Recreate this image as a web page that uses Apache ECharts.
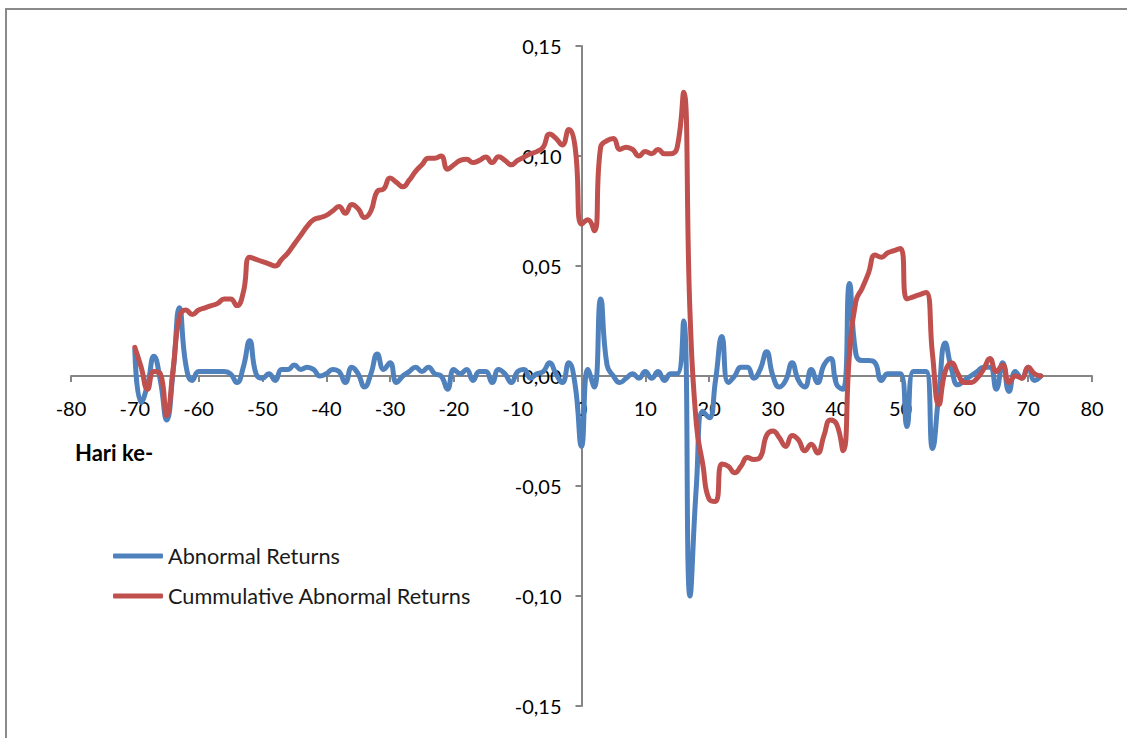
<!DOCTYPE html>
<html>
<head>
<meta charset="utf-8">
<title>Abnormal Returns</title>
<script src="https://cdn.jsdelivr.net/npm/echarts@6/dist/echarts.min.js"></script>
<style>
  html, body { margin: 0; padding: 0; background: #ffffff; }
  #chart { width: 1127px; height: 738px; }
</style>
</head>
<body>
<div id="chart"></div>
<script>
// Event window: day -70 .. day 72
const firstDay = -70;

// Daily abnormal returns (AR), days -70 .. 72
const abnormalReturns = [
  0.012, -0.012, -0.004, 0.009, -0.002, -0.020, 0.002, 0.031, 0.005, -0.002,   // -70 .. -61
  0.002, 0.002, 0.002, 0.002, 0.002, 0.001, -0.003, 0.004, 0.016, 0.001,       // -60 .. -51
  -0.001, 0.001, -0.002, 0.003, 0.003, 0.005, 0.003, 0.004, 0.003, 0.000,      // -50 .. -41
  0.001, 0.003, 0.002, -0.003, 0.004, 0.001, -0.005, 0.001, 0.010, 0.003,      // -40 .. -31
  0.006, -0.003, 0.000, 0.002, 0.004, 0.002, 0.004, 0.001, 0.000, -0.006,      // -30 .. -21
  0.003, 0.001, 0.003, -0.002, 0.002, 0.002, -0.003, 0.003, 0.001, -0.003,     // -20 .. -11
  0.002, 0.003, -0.001, 0.001, 0.002, 0.006, 0.001, -0.003, 0.006, -0.004,     // -10 .. -1
  -0.032, 0.003, -0.005, 0.035, 0.005, 0.000, -0.003, -0.001, 0.001, -0.001,   //   0 .. 9
  0.002, -0.001, 0.002, -0.002, 0.001, 0.001, 0.025, -0.100, -0.050, -0.016,   //  10 .. 19
  -0.019, -0.002, 0.018, -0.003, 0.000, 0.004, 0.004, -0.001, 0.003, 0.011,    //  20 .. 29
  0.000, -0.005, -0.002, 0.006, -0.002, -0.005, 0.003, -0.003, 0.005, 0.008,   //  30 .. 39
  -0.004, -0.006, 0.042, 0.010, 0.007, 0.007, 0.006, -0.002, 0.001, 0.001,     //  40 .. 49
  0.001, -0.023, 0.002, 0.002, 0.002, -0.033, -0.008, 0.015, 0.003, -0.004,    //  50 .. 59
  -0.002, 0.000, 0.002, 0.004, 0.004, -0.006, 0.006, -0.007, 0.002, -0.001,    //  60 .. 69
  0.004, -0.002, 0.000                                                          //  70 .. 72
];

// Cumulative abnormal returns (CAR), days -70 .. 72
const cumulativeReturns = [
  0.013, 0.004, -0.006, 0.002, 0.001, -0.018, 0.003, 0.027, 0.030, 0.028,     // -70 .. -61
  0.030, 0.031, 0.032, 0.033, 0.035, 0.035, 0.032, 0.038, 0.054, 0.053,       // -60 .. -51
  0.052, 0.051, 0.050, 0.053, 0.056, 0.060, 0.064, 0.068, 0.071, 0.072,       // -50 .. -41
  0.073, 0.075, 0.077, 0.074, 0.078, 0.076, 0.072, 0.075, 0.084, 0.085,       // -40 .. -31
  0.090, 0.088, 0.086, 0.089, 0.093, 0.096, 0.099, 0.099, 0.100, 0.094,       // -30 .. -21
  0.096, 0.098, 0.0985, 0.097, 0.098, 0.0995, 0.097, 0.0997, 0.098, 0.096,    // -20 .. -11
  0.098, 0.0995, 0.101, 0.102, 0.104, 0.110, 0.108, 0.105, 0.112, 0.104,      // -10 .. -1
  0.069, 0.071, 0.066, 0.104, 0.107, 0.108, 0.103, 0.104, 0.103, 0.100,       //   0 .. 9
  0.102, 0.101, 0.103, 0.101, 0.101, 0.104, 0.129, 0.029, -0.022, -0.040,     //  10 .. 19
  -0.056, -0.057, -0.040, -0.041, -0.044, -0.041, -0.037, -0.038, -0.037, -0.027, // 20 .. 29
  -0.025, -0.028, -0.032, -0.027, -0.029, -0.034, -0.031, -0.035, -0.027, -0.020, // 30 .. 39
  -0.022, -0.034, 0.010, 0.034, 0.040, 0.047, 0.055, 0.054, 0.056, 0.057,     //  40 .. 49
  0.058, 0.035, 0.036, 0.037, 0.038, 0.010, -0.013, 0.002, 0.006, 0.001,      //  50 .. 59
  -0.003, -0.003, -0.001, 0.003, 0.008, 0.002, 0.005, -0.003, 0.000, -0.001,  //  60 .. 69
  0.004, 0.001, 0.000                                                          //  70 .. 72
];

const seriesNames = ['Abnormal Returns', 'Cummulative Abnormal Returns'];
const seriesColors = ['#4F81BD', '#C0504D'];
const xAxisTitle = 'Hari ke-';

const xMin = -80, xMax = 80, xStep = 10;
const yMin = -0.15, yMax = 0.15, yStep = 0.05;

// pair each value with its day number for the value-type x axis
function toPoints(values) {
  return values.map((v, i) => [firstDay + i, v]);
}

// decimal comma, two places: 0,15 / -0,10
function commaFormat(v) {
  const s = Math.abs(v).toFixed(2).replace('.', ',');
  return (v < -1e-9 ? '-' : '') + s;
}

const fontFamily = 'Lato, "Open Sans", sans-serif';
const axisGray = '#868686';

// plot area
const W = 1127, H = 738;
const grid = { left: 71, right: 35, top: 46, bottom: 32 };
const plotW = W - grid.left - grid.right;
const plotH = H - grid.top - grid.bottom;
// the axes cross at (0, 0): shift each axis inward from the plot edge
const yAxisShift = -plotW * (0 - xMin) / (xMax - xMin);
const xAxisShift = -plotH * (0 - yMin) / (yMax - yMin);

const chart = echarts.init(document.getElementById('chart'), null, { renderer: 'svg' });

chart.setOption({
  backgroundColor: '#ffffff',
  animation: false,
  textStyle: { fontFamily: fontFamily },
  grid: Object.assign({ containLabel: false }, grid),
  title: {
    text: xAxisTitle,
    left: 75,
    top: 441,
    padding: 0,
    textStyle: { fontFamily: fontFamily, fontSize: 22, fontWeight: 'bold', color: '#000000' }
  },
  legend: {
    orient: 'vertical',
    left: 113,
    top: 545,
    padding: 0,
    itemGap: 18,
    itemWidth: 50,
    itemHeight: 5,
    icon: 'roundRect',
    data: seriesNames,
    textStyle: { fontFamily: fontFamily, fontSize: 21.7, color: '#1a1a1a', lineHeight: 22 }
  },
  xAxis: {
    type: 'value',
    min: xMin,
    max: xMax,
    interval: xStep,
    offset: xAxisShift,
    splitLine: { show: false },
    axisLine: { onZero: false, lineStyle: { color: axisGray, width: 2 } },
    axisTick: { show: true, length: 6, lineStyle: { color: axisGray, width: 2 } },
    axisLabel: { margin: 22, fontSize: 20, color: '#000000', fontFamily: fontFamily }
  },
  yAxis: {
    type: 'value',
    min: yMin,
    max: yMax,
    interval: yStep,
    offset: yAxisShift,
    splitLine: { show: false },
    axisLine: { onZero: false, lineStyle: { color: axisGray, width: 2 } },
    axisTick: { show: true, length: 6, lineStyle: { color: axisGray, width: 2 } },
    axisLabel: { margin: 20, fontSize: 20, color: '#000000', fontFamily: fontFamily, formatter: commaFormat }
  },
  series: [
    {
      name: seriesNames[0],
      type: 'line',
      data: toPoints(abnormalReturns),
      smooth: 0.5,
      showSymbol: false,
      color: seriesColors[0],
      lineStyle: { width: 5, color: seriesColors[0], cap: 'round', join: 'round' },
      z: 3
    },
    {
      name: seriesNames[1],
      type: 'line',
      data: toPoints(cumulativeReturns),
      smooth: 0.5,
      showSymbol: false,
      color: seriesColors[1],
      lineStyle: { width: 5, color: seriesColors[1], cap: 'round', join: 'round' },
      z: 4
    }
  ],
  graphic: [
    {
      type: 'rect',
      silent: true,
      z: -10,
      shape: { x: 6, y: 9, width: 1200, height: 800 },
      style: { fill: 'none', stroke: '#8a8a8a', lineWidth: 2 }
    }
  ]
});
</script>
</body>
</html>
